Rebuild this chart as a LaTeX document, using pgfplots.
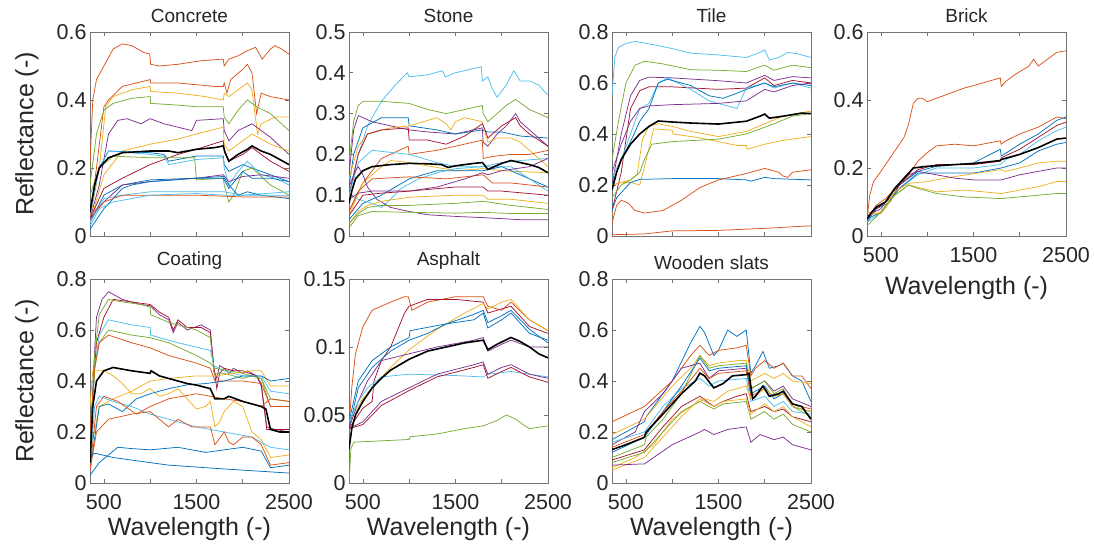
\documentclass[border=0pt]{standalone}
\usepackage{fontspec}
\setmainfont{Liberation Sans}
\usepackage{pgfplots}
\pgfplotsset{compat=1.18}
\definecolor{ca}{rgb}{0,0.447,0.741}
\definecolor{cb}{rgb}{0.85,0.325,0.098}
\definecolor{cc}{rgb}{0.929,0.694,0.125}
\definecolor{cd}{rgb}{0.494,0.184,0.556}
\definecolor{ce}{rgb}{0.466,0.674,0.188}
\definecolor{cf}{rgb}{0.301,0.745,0.933}
\definecolor{cg}{rgb}{0.635,0.078,0.184}
\definecolor{axgray}{rgb}{0.45,0.45,0.45}
\definecolor{txt}{rgb}{0.15,0.15,0.15}
\pgfplotsset{
 panel/.style={width=199pt,height=204pt,scale only axis,anchor=south west,
  xmin=350,xmax=2500,xtick={500,1000,1500,2000,2500},
  axis line style={axgray,line width=0.6pt},
  tick style={axgray,line width=0.6pt},major tick length=4pt,tick align=inside,
  tick label style={font=\fontsize{21.5}{23}\selectfont,text=txt},
  xticklabel style={yshift=-8pt},
  title style={font=\fontsize{19}{21}\selectfont,text=txt},
  every axis x label/.style={at={(axis description cs:0.5,0)},anchor=north,yshift=-31pt,font=\fontsize{25}{27}\selectfont,text=txt},
  every axis y label/.style={at={(axis description cs:-0.317,0.5)},rotate=90,anchor=center,font=\fontsize{25}{27}\selectfont,text=txt},
  every axis plot/.append style={line width=0.75pt},
 },
 nolab/.style={xticklabels={}},
 lab/.style={xticklabels={500,,1500,,2500},xlabel={Wavelength (-)}},
 mean/.style={black,line width=1.6pt},
}
\begin{document}
\begin{tikzpicture}
\useasboundingbox (0pt,0pt) rectangle (1094pt,553pt);
% ---------------- Concrete
\begin{axis}[panel,nolab,at={(90pt,317pt)},ymin=0,ymax=0.6,ytick={0,0.2,0.4,0.6},yticklabels={0,0.2,0.4,0.6},title={Concrete},ylabel={Reflectance (-)}]
\addplot[cb] coordinates {(350,0.21)(380,0.4)(420,0.46)(500,0.5)(600,0.55)(700,0.565)(800,0.56)(930,0.54)(995,0.535)(1005,0.505)(1100,0.5)(1300,0.505)(1540,0.515)(1760,0.52)(1790,0.52)(1800,0.5)(1850,0.52)(1950,0.53)(2050,0.545)(2140,0.555)(2210,0.52)(2300,0.55)(2350,0.56)(2420,0.55)(2500,0.535)};
\addplot[cb] coordinates {(350,0.06)(420,0.2)(500,0.38)(550,0.4)(700,0.44)(1000,0.46)(1005,0.45)(1300,0.45)(1700,0.44)(1790,0.44)(1800,0.45)(1830,0.42)(1870,0.46)(2000,0.49)(2050,0.505)(2100,0.48)(2150,0.36)(2200,0.42)(2300,0.41)(2500,0.40)};
\addplot[cc] coordinates {(350,0.05)(450,0.2)(520,0.38)(600,0.41)(800,0.43)(1000,0.44)(1005,0.425)(1300,0.42)(1600,0.41)(1790,0.40)(1800,0.42)(1850,0.41)(1900,0.42)(2000,0.44)(2050,0.45)(2100,0.43)(2160,0.3)(2200,0.33)(2350,0.35)(2500,0.35)};
\addplot[ce] coordinates {(350,0.15)(420,0.3)(500,0.37)(600,0.39)(800,0.405)(1000,0.41)(1005,0.39)(1300,0.385)(1500,0.38)(1790,0.38)(1800,0.35)(1850,0.33)(1950,0.37)(2050,0.40)(2150,0.38)(2300,0.36)(2500,0.31)};
\addplot[cd] coordinates {(350,0.05)(450,0.15)(550,0.30)(650,0.34)(750,0.345)(900,0.33)(1000,0.345)(1150,0.33)(1300,0.32)(1450,0.31)(1500,0.34)(1790,0.345)(1800,0.31)(1850,0.28)(1950,0.31)(2100,0.33)(2300,0.29)(2500,0.24)};
\addplot[cc] coordinates {(350,0.04)(500,0.18)(700,0.25)(1000,0.27)(1300,0.285)(1500,0.30)(1790,0.32)(1800,0.27)(1850,0.25)(2000,0.28)(2100,0.30)(2300,0.27)(2500,0.25)};
\addplot[cg] coordinates {(350,0.05)(500,0.14)(700,0.17)(1000,0.21)(1300,0.24)(1500,0.255)(1790,0.28)(1800,0.25)(1850,0.22)(2000,0.24)(2100,0.26)(2300,0.22)(2500,0.19)};
\addplot[ca] coordinates {(350,0.08)(450,0.2)(550,0.25)(1000,0.245)(1150,0.24)(1200,0.22)(1500,0.235)(1790,0.235)(1800,0.21)(1850,0.19)(2000,0.21)(2100,0.2)(2300,0.18)(2500,0.16)};
\addplot[ce] coordinates {(350,0.12)(450,0.2)(600,0.235)(1000,0.23)(1480,0.23)(1500,0.165)(1790,0.17)(1800,0.15)(1850,0.10)(1900,0.12)(2000,0.19)(2100,0.2)(2300,0.15)(2500,0.12)};
\addplot[cf] coordinates {(350,0.06)(450,0.2)(550,0.25)(1000,0.24)(1150,0.235)(1200,0.21)(1500,0.225)(1790,0.23)(1800,0.2)(1850,0.15)(1950,0.19)(2050,0.22)(2200,0.18)(2350,0.17)(2500,0.15)};
\addplot[ca] coordinates {(350,0.04)(500,0.12)(700,0.15)(1000,0.165)(1500,0.17)(1790,0.17)(1850,0.14)(2000,0.19)(2100,0.17)(2300,0.17)(2500,0.16)};
\addplot[cd] coordinates {(350,0.05)(500,0.1)(700,0.15)(1000,0.16)(1500,0.17)(1790,0.18)(1850,0.16)(2000,0.175)(2200,0.18)(2500,0.17)};
\addplot[cf] coordinates {(350,0.04)(500,0.11)(700,0.12)(1000,0.13)(1500,0.13)(1800,0.13)(2000,0.12)(2500,0.13)};
\addplot[ca] coordinates {(350,0.02)(500,0.08)(700,0.14)(800,0.15)(1000,0.16)(1500,0.17)(1790,0.175)(1850,0.15)(1950,0.12)(2050,0.13)(2200,0.12)(2500,0.11)};
\addplot[cb] coordinates {(350,0.06)(500,0.1)(700,0.12)(1000,0.12)(1500,0.12)(2000,0.115)(2500,0.115)};
\addplot[cf] coordinates {(350,0.03)(450,0.08)(600,0.1)(800,0.11)(1000,0.12)(1500,0.125)(1800,0.12)(2100,0.12)(2500,0.12)};
\addplot[mean] coordinates {(350,0.07)(400,0.15)(450,0.2)(550,0.23)(700,0.245)(1000,0.25)(1200,0.25)(1300,0.245)(1500,0.255)(1700,0.26)(1790,0.265)(1810,0.245)(1850,0.22)(1950,0.24)(2050,0.255)(2100,0.265)(2200,0.25)(2300,0.24)(2400,0.225)(2500,0.21)};
\end{axis}
% ---------------- Stone
\begin{axis}[panel,nolab,at={(349pt,317pt)},ymin=0,ymax=0.5,ytick={0,0.1,0.2,0.3,0.4,0.5},yticklabels={0,0.1,0.2,0.3,0.4,0.5},title={Stone}]
\addplot[cf] coordinates {(350,0.1)(450,0.2)(550,0.27)(700,0.33)(850,0.37)(980,0.40)(1000,0.39)(1200,0.395)(1360,0.405)(1390,0.39)(1500,0.4)(1780,0.415)(1790,0.38)(1850,0.39)(1900,0.36)(1950,0.34)(2050,0.37)(2130,0.405)(2200,0.38)(2300,0.38)(2400,0.37)(2500,0.345)};
\addplot[ce] coordinates {(350,0.18)(400,0.28)(450,0.32)(500,0.33)(700,0.33)(1000,0.325)(1200,0.31)(1400,0.30)(1600,0.31)(1790,0.32)(1800,0.30)(1850,0.28)(1950,0.30)(2050,0.32)(2150,0.335)(2300,0.31)(2500,0.29)};
\addplot[cd] coordinates {(350,0.15)(400,0.26)(450,0.295)(600,0.28)(800,0.27)(1000,0.26)(1200,0.255)(1500,0.25)(1790,0.265)(1800,0.23)(1850,0.22)(1950,0.25)(2050,0.27)(2150,0.30)(2200,0.28)(2300,0.26)(2400,0.24)(2500,0.22)};
\addplot[ca] coordinates {(350,0.12)(400,0.2)(500,0.265)(700,0.29)(990,0.29)(1000,0.27)(1300,0.26)(1500,0.25)(1790,0.26)(1850,0.255)(2000,0.255)(2200,0.245)(2500,0.24)};
\addplot[cc] coordinates {(350,0.14)(450,0.22)(550,0.25)(800,0.265)(1000,0.27)(1300,0.29)(1400,0.275)(1450,0.26)(1500,0.28)(1600,0.29)(1790,0.28)(1850,0.23)(1950,0.24)(2100,0.24)(2200,0.23)(2350,0.2)(2500,0.17)};
\addplot[cg] coordinates {(350,0.1)(450,0.2)(550,0.25)(700,0.26)(990,0.265)(1000,0.235)(1200,0.235)(1400,0.225)(1600,0.245)(1790,0.275)(1820,0.26)(1850,0.24)(2000,0.27)(2150,0.29)(2200,0.27)(2300,0.25)(2500,0.22)};
\addplot[cb] coordinates {(350,0.06)(500,0.13)(700,0.19)(990,0.22)(1000,0.2)(1300,0.21)(1500,0.22)(1790,0.235)(1800,0.19)(1900,0.195)(2100,0.2)(2300,0.2)(2500,0.21)};
\addplot[cf] coordinates {(350,0.1)(450,0.18)(600,0.21)(800,0.205)(1000,0.2)(1300,0.18)(1500,0.17)(1800,0.17)(2000,0.18)(2200,0.185)(2500,0.19)};
\addplot[cc] coordinates {(350,0.05)(500,0.13)(700,0.17)(800,0.185)(1000,0.18)(1500,0.16)(1800,0.165)(2000,0.16)(2500,0.155)};
\addplot[ca] coordinates {(350,0.04)(500,0.08)(700,0.1)(1000,0.14)(1300,0.16)(1500,0.16)(1800,0.16)(2000,0.17)(2200,0.15)(2500,0.12)};
\addplot[cf] coordinates {(350,0.1)(450,0.09)(600,0.08)(700,0.07)(800,0.09)(900,0.115)(1100,0.14)(1300,0.155)(1500,0.165)(1800,0.17)(2000,0.17)(2100,0.17)(2300,0.14)(2500,0.11)};
\addplot[cb] coordinates {(350,0.06)(450,0.11)(600,0.14)(1000,0.145)(1400,0.14)(1800,0.15)(1900,0.13)(2100,0.13)(2500,0.12)};
\addplot[cd] coordinates {(350,0.12)(420,0.16)(450,0.17)(500,0.15)(550,0.12)(650,0.09)(800,0.07)(1000,0.06)(1200,0.052)(1500,0.048)(1800,0.045)(2200,0.04)(2500,0.04)};
\addplot[cd] coordinates {(350,0.09)(450,0.105)(600,0.11)(1000,0.11)(1300,0.12)(1600,0.14)(1790,0.155)(1850,0.15)(2000,0.16)(2300,0.17)(2500,0.19)};
\addplot[cg] coordinates {(350,0.05)(500,0.1)(700,0.105)(1000,0.11)(1500,0.12)(1800,0.12)(1850,0.11)(2000,0.11)(2500,0.1)};
\addplot[cc] coordinates {(350,0.03)(450,0.06)(550,0.075)(700,0.085)(1000,0.095)(1500,0.1)(1800,0.1)(1850,0.09)(2100,0.09)(2500,0.08)};
\addplot[ce] coordinates {(350,0.03)(450,0.055)(550,0.07)(700,0.075)(1000,0.075)(1500,0.08)(1800,0.085)(2100,0.075)(2500,0.065)};
\addplot[ce] coordinates {(350,0.02)(450,0.05)(600,0.06)(1000,0.058)(1500,0.056)(1800,0.058)(2100,0.055)(2500,0.055)};
\addplot[mean] coordinates {(350,0.08)(380,0.11)(420,0.14)(500,0.16)(600,0.17)(800,0.175)(1000,0.178)(1200,0.177)(1350,0.175)(1420,0.168)(1500,0.172)(1700,0.178)(1790,0.18)(1810,0.175)(1850,0.163)(1900,0.168)(2000,0.178)(2100,0.185)(2200,0.18)(2300,0.175)(2400,0.168)(2500,0.155)};
\end{axis}
% ---------------- Tile
\begin{axis}[panel,nolab,at={(612pt,317pt)},ymin=0,ymax=0.8,ytick={0,0.2,0.4,0.6,0.8},yticklabels={0,0.2,0.4,0.6,0.8},title={Tile}]
\addplot[cf] coordinates {(350,0.55)(380,0.7)(420,0.74)(500,0.755)(600,0.763)(800,0.75)(1000,0.735)(1200,0.717)(1500,0.71)(1800,0.70)(1950,0.72)(2000,0.73)(2050,0.69)(2150,0.70)(2250,0.72)(2350,0.715)(2500,0.70)};
\addplot[ce] coordinates {(350,0.3)(420,0.45)(500,0.6)(600,0.67)(700,0.685)(900,0.675)(1200,0.652)(1500,0.65)(1800,0.645)(2000,0.67)(2100,0.65)(2300,0.67)(2500,0.66)};
\addplot[cd] coordinates {(350,0.2)(450,0.4)(550,0.55)(650,0.61)(750,0.623)(1000,0.62)(1500,0.609)(1800,0.60)(2000,0.63)(2100,0.61)(2300,0.625)(2500,0.62)};
\addplot[cg] coordinates {(350,0.1)(450,0.25)(550,0.5)(650,0.57)(750,0.585)(1000,0.585)(1500,0.575)(1800,0.58)(2000,0.62)(2100,0.59)(2300,0.61)(2500,0.6)};
\addplot[cf] coordinates {(350,0.23)(450,0.3)(550,0.4)(650,0.5)(750,0.52)(850,0.6)(950,0.62)(1200,0.575)(1400,0.53)(1500,0.52)(1700,0.5)(1800,0.58)(2000,0.6)(2100,0.58)(2300,0.6)(2500,0.58)};
\addplot[ca] coordinates {(350,0.2)(450,0.3)(550,0.37)(650,0.45)(750,0.5)(850,0.6)(950,0.615)(1200,0.59)(1400,0.55)(1550,0.54)(1700,0.56)(1800,0.575)(2000,0.6)(2100,0.585)(2300,0.6)(2500,0.59)};
\addplot[cd] coordinates {(350,0.25)(450,0.36)(550,0.45)(650,0.5)(750,0.51)(1000,0.515)(1500,0.52)(1800,0.53)(2000,0.575)(2100,0.565)(2300,0.59)(2500,0.6)};
\addplot[cc] coordinates {(350,0.2)(450,0.21)(550,0.22)(620,0.24)(680,0.38)(750,0.43)(850,0.44)(1000,0.43)(1200,0.41)(1500,0.39)(1800,0.41)(2000,0.44)(2200,0.47)(2500,0.49)};
\addplot[cc] coordinates {(350,0.2)(450,0.21)(550,0.21)(650,0.2)(720,0.3)(800,0.42)(1000,0.415)(1010,0.4)(1300,0.385)(1500,0.37)(1700,0.355)(1800,0.355)(1810,0.34)(2000,0.36)(2200,0.375)(2500,0.39)};
\addplot[ce] coordinates {(350,0.15)(450,0.2)(550,0.22)(650,0.25)(700,0.3)(780,0.36)(1000,0.37)(1500,0.38)(1800,0.4)(2100,0.44)(2300,0.47)(2500,0.48)};
\addplot[ca] coordinates {(350,0.1)(400,0.15)(450,0.17)(550,0.21)(650,0.222)(1000,0.225)(1500,0.225)(1800,0.22)(1850,0.215)(2000,0.23)(2100,0.225)(2500,0.22)};
\addplot[cb] coordinates {(350,0.05)(400,0.12)(450,0.14)(520,0.13)(600,0.1)(700,0.09)(900,0.1)(1100,0.14)(1300,0.19)(1500,0.22)(1800,0.245)(2000,0.265)(2150,0.25)(2200,0.235)(2250,0.23)(2300,0.25)(2500,0.26)};
\addplot[cb] coordinates {(350,0.005)(700,0.008)(1000,0.02)(1500,0.022)(2000,0.03)(2500,0.04)};
\addplot[mean] coordinates {(350,0.18)(400,0.25)(450,0.3)(550,0.36)(650,0.4)(750,0.43)(850,0.451)(1000,0.447)(1200,0.443)(1500,0.439)(1800,0.45)(1950,0.47)(2000,0.478)(2050,0.462)(2200,0.47)(2400,0.482)(2500,0.48)};
\end{axis}
% ---------------- Brick
\begin{axis}[panel,lab,at={(867pt,317pt)},ymin=0,ymax=0.6,ytick={0,0.2,0.4,0.6},yticklabels={0,0.2,0.4,0.6},title={Brick},every axis x label/.append style={yshift=-6pt}]
\addplot[cb] coordinates {(350,0.05)(380,0.12)(420,0.16)(500,0.19)(600,0.23)(700,0.27)(750,0.29)(800,0.33)(850,0.39)(900,0.405)(950,0.405)(1000,0.395)(1200,0.415)(1400,0.435)(1600,0.45)(1790,0.465)(1800,0.44)(1850,0.455)(1950,0.475)(2100,0.5)(2150,0.52)(2200,0.5)(2300,0.52)(2400,0.54)(2500,0.545)};
\addplot[cb] coordinates {(350,0.05)(450,0.09)(550,0.11)(700,0.15)(800,0.18)(900,0.22)(1000,0.245)(1100,0.265)(1300,0.27)(1500,0.265)(1790,0.28)(1800,0.27)(1850,0.28)(2000,0.3)(2200,0.32)(2400,0.35)(2500,0.345)};
\addplot[ca] coordinates {(350,0.04)(450,0.08)(600,0.1)(700,0.15)(900,0.19)(1100,0.205)(1500,0.215)(1790,0.255)(1800,0.235)(2000,0.27)(2200,0.3)(2400,0.34)(2500,0.35)};
\addplot[cg] coordinates {(350,0.05)(450,0.08)(600,0.11)(700,0.15)(900,0.195)(1100,0.21)(1500,0.21)(1790,0.22)(1800,0.23)(2000,0.255)(2200,0.29)(2400,0.325)(2500,0.335)};
\addplot[cf] coordinates {(350,0.04)(500,0.07)(700,0.14)(900,0.18)(1100,0.2)(1500,0.2)(1790,0.21)(1850,0.225)(2000,0.24)(2200,0.28)(2400,0.31)(2500,0.32)};
\addplot[ca] coordinates {(350,0.05)(500,0.07)(700,0.14)(900,0.185)(1100,0.185)(1500,0.185)(1800,0.2)(2000,0.215)(2200,0.25)(2400,0.27)(2500,0.275)};
\addplot[cc] coordinates {(350,0.06)(500,0.07)(650,0.13)(800,0.155)(1000,0.16)(1300,0.175)(1790,0.195)(1850,0.19)(2000,0.2)(2200,0.215)(2400,0.22)(2500,0.22)};
\addplot[cd] coordinates {(350,0.06)(500,0.08)(650,0.14)(800,0.18)(900,0.19)(1100,0.18)(1300,0.17)(1500,0.165)(1800,0.165)(2000,0.18)(2200,0.19)(2400,0.2)(2500,0.2)};
\addplot[cc] coordinates {(350,0.07)(500,0.065)(650,0.12)(800,0.15)(950,0.14)(1100,0.13)(1400,0.135)(1800,0.125)(2000,0.135)(2200,0.145)(2400,0.16)(2500,0.16)};
\addplot[ce] coordinates {(350,0.03)(500,0.07)(650,0.12)(800,0.15)(900,0.14)(1100,0.125)(1400,0.115)(1800,0.11)(2000,0.115)(2200,0.12)(2400,0.125)(2500,0.125)};
\addplot[mean] coordinates {(350,0.05)(400,0.07)(450,0.085)(550,0.1)(650,0.14)(750,0.17)(850,0.2)(1000,0.205)(1300,0.21)(1500,0.213)(1790,0.222)(1800,0.225)(2000,0.24)(2200,0.26)(2400,0.285)(2500,0.288)};
\end{axis}
% ---------------- Coating
\begin{axis}[panel,lab,at={(90pt,70pt)},ymin=0,ymax=0.8,ytick={0,0.2,0.4,0.6,0.8},yticklabels={0,0.2,0.4,0.6,0.8},title={Coating},ylabel={Reflectance (-)}]
\addplot[cd] coordinates {(350,0.1)(390,0.45)(420,0.65)(480,0.72)(550,0.75)(700,0.72)(900,0.7)(1000,0.695)(1100,0.66)(1200,0.64)(1250,0.59)(1300,0.63)(1400,0.6)(1550,0.62)(1650,0.6)(1690,0.44)(1720,0.41)(1750,0.46)(1800,0.45)(1850,0.43)(1900,0.45)(2000,0.43)(2050,0.44)(2150,0.42)(2200,0.38)(2260,0.22)(2350,0.21)(2500,0.2)};
\addplot[cg] coordinates {(350,0.1)(390,0.4)(420,0.55)(500,0.65)(600,0.72)(800,0.71)(1000,0.7)(1100,0.67)(1200,0.65)(1250,0.6)(1300,0.64)(1400,0.61)(1550,0.61)(1650,0.59)(1690,0.45)(1720,0.37)(1750,0.43)(1800,0.45)(1900,0.44)(2000,0.44)(2150,0.42)(2200,0.39)(2260,0.21)(2500,0.21)};
\addplot[ce] coordinates {(350,0.1)(400,0.5)(450,0.66)(550,0.72)(700,0.71)(900,0.70)(1000,0.69)(1005,0.66)(1200,0.63)(1500,0.6)(1650,0.57)(1690,0.43)(1800,0.43)(2000,0.41)(2100,0.42)(2200,0.41)(2300,0.3)(2500,0.3)};
\addplot[cf] coordinates {(350,0.08)(400,0.45)(450,0.58)(550,0.64)(800,0.62)(1000,0.61)(1005,0.58)(1300,0.55)(1650,0.52)(1690,0.46)(1800,0.44)(2000,0.42)(2200,0.42)(2300,0.36)(2500,0.35)};
\addplot[ce] coordinates {(350,0.08)(400,0.45)(450,0.55)(550,0.6)(800,0.58)(1000,0.57)(1200,0.55)(1500,0.5)(1650,0.47)(1700,0.45)(2000,0.43)(2200,0.41)(2300,0.33)(2500,0.32)};
\addplot[cb] coordinates {(350,0.2)(400,0.45)(450,0.55)(550,0.58)(800,0.55)(1000,0.53)(1200,0.5)(1500,0.47)(1650,0.45)(1700,0.4)(1800,0.4)(2000,0.4)(2200,0.39)(2300,0.3)(2500,0.3)};
\addplot[cc] coordinates {(350,0.3)(380,0.44)(500,0.44)(600,0.42)(700,0.39)(800,0.35)(900,0.35)(1000,0.37)(1100,0.34)(1200,0.35)(1300,0.37)(1400,0.33)(1500,0.29)(1600,0.3)(1650,0.32)(1700,0.22)(1750,0.24)(1800,0.28)(1900,0.32)(2000,0.3)(2050,0.25)(2100,0.2)(2200,0.17)(2300,0.1)(2500,0.11)};
\addplot[cc] coordinates {(350,0.15)(400,0.2)(450,0.3)(600,0.33)(800,0.36)(1000,0.4)(1200,0.41)(1500,0.42)(1700,0.42)(1900,0.43)(2100,0.44)(2200,0.44)(2300,0.38)(2500,0.38)};
\addplot[ca] coordinates {(350,0.05)(450,0.3)(550,0.31)(700,0.28)(850,0.33)(1000,0.35)(1200,0.37)(1400,0.385)(1600,0.39)(1800,0.4)(2000,0.42)(2200,0.42)(2300,0.4)(2500,0.41)};
\addplot[cf] coordinates {(350,0.05)(400,0.3)(450,0.34)(600,0.32)(800,0.3)(1000,0.27)(1200,0.25)(1500,0.22)(1800,0.2)(2100,0.18)(2300,0.14)(2500,0.13)};
\addplot[cb] coordinates {(350,0.05)(420,0.3)(500,0.34)(650,0.32)(850,0.27)(1000,0.3)(1200,0.33)(1500,0.35)(1800,0.33)(2000,0.32)(2200,0.3)(2300,0.33)(2500,0.32)};
\addplot[cb] coordinates {(350,0.05)(420,0.2)(550,0.25)(800,0.27)(1000,0.28)(1100,0.25)(1200,0.22)(1300,0.25)(1450,0.22)(1650,0.22)(1700,0.15)(1800,0.2)(1850,0.16)(1900,0.15)(2000,0.18)(2100,0.18)(2200,0.15)(2300,0.07)(2500,0.08)};
\addplot[ca] coordinates {(350,0.03)(450,0.08)(550,0.11)(650,0.14)(800,0.135)(1000,0.13)(1300,0.14)(1600,0.12)(2000,0.14)(2200,0.125)(2300,0.06)(2500,0.07)};
\addplot[ca] coordinates {(350,0.1)(400,0.117)(600,0.1)(800,0.09)(1200,0.07)(1800,0.055)(2500,0.039)};
\addplot[mean] coordinates {(350,0.08)(380,0.3)(420,0.4)(500,0.44)(600,0.453)(800,0.44)(1000,0.43)(1010,0.44)(1100,0.42)(1200,0.41)(1300,0.4)(1400,0.39)(1500,0.384)(1650,0.37)(1700,0.33)(1800,0.33)(1850,0.34)(2000,0.32)(2200,0.3)(2250,0.29)(2300,0.21)(2400,0.2)(2500,0.2)};
\end{axis}
% ---------------- Asphalt
\begin{axis}[panel,lab,at={(349pt,70pt)},ymin=0,ymax=0.15,ytick={0,0.05,0.1,0.15},yticklabels={0,0.05,0.1,0.15},title={Asphalt}]
\addplot[cb] coordinates {(350,0.04)(380,0.07)(420,0.095)(500,0.115)(600,0.127)(700,0.13)(800,0.133)(950,0.137)(990,0.137)(1030,0.127)(1200,0.133)(1500,0.137)(1800,0.137)(1850,0.13)(2000,0.127)(2100,0.133)(2300,0.12)(2500,0.112)};
\addplot[cg] coordinates {(350,0.04)(500,0.055)(600,0.06)(620,0.075)(700,0.09)(800,0.1)(950,0.125)(1000,0.13)(1200,0.135)(1500,0.135)(1800,0.133)(1850,0.125)(2000,0.128)(2100,0.13)(2300,0.115)(2500,0.11)};
\addplot[cc] coordinates {(350,0.045)(500,0.062)(600,0.07)(800,0.085)(1000,0.098)(1300,0.113)(1600,0.125)(1800,0.132)(1850,0.128)(2000,0.133)(2100,0.135)(2300,0.12)(2500,0.112)};
\addplot[ca] coordinates {(350,0.04)(450,0.07)(600,0.085)(800,0.097)(1000,0.105)(1200,0.11)(1400,0.117)(1700,0.12)(1800,0.125)(1850,0.114)(2000,0.12)(2100,0.125)(2300,0.11)(2500,0.105)};
\addplot[ca] coordinates {(350,0.045)(450,0.075)(600,0.09)(800,0.1)(1000,0.107)(1010,0.112)(1400,0.117)(1700,0.124)(1800,0.127)(1850,0.118)(2000,0.123)(2100,0.127)(2300,0.113)(2500,0.103)};
\addplot[cd] coordinates {(350,0.04)(450,0.06)(550,0.075)(700,0.09)(1000,0.095)(1300,0.1)(1700,0.105)(1800,0.107)(1850,0.097)(2000,0.102)(2100,0.105)(2300,0.1)(2500,0.1)};
\addplot[cf] coordinates {(350,0.045)(450,0.06)(550,0.07)(700,0.078)(1000,0.08)(1500,0.079)(1800,0.078)(1850,0.08)(2100,0.082)(2300,0.08)(2500,0.078)};
\addplot[cd] coordinates {(350,0.04)(500,0.045)(700,0.06)(1000,0.07)(1300,0.08)(1700,0.087)(1800,0.089)(1850,0.08)(2000,0.085)(2100,0.087)(2300,0.08)(2500,0.077)};
\addplot[cg] coordinates {(350,0.04)(500,0.043)(700,0.057)(1000,0.068)(1300,0.078)(1700,0.085)(1800,0.087)(1850,0.077)(2000,0.082)(2100,0.085)(2300,0.078)(2500,0.074)};
\addplot[ce] coordinates {(350,0.0)(370,0.025)(400,0.03)(700,0.031)(1000,0.032)(1010,0.034)(1300,0.036)(1600,0.04)(1800,0.042)(1950,0.046)(2050,0.05)(2150,0.047)(2250,0.042)(2300,0.04)(2500,0.042)};
\addplot[mean] coordinates {(350,0.025)(380,0.04)(420,0.05)(500,0.06)(600,0.07)(700,0.077)(800,0.083)(1000,0.091)(1200,0.097)(1400,0.1)(1600,0.103)(1800,0.105)(1850,0.098)(1950,0.102)(2100,0.107)(2200,0.104)(2300,0.1)(2400,0.095)(2500,0.092)};
\end{axis}
% ---------------- Wooden slats
\begin{axis}[panel,lab,at={(612pt,70pt)},ymin=0,ymax=0.8,ytick={0,0.2,0.4,0.6,0.8},yticklabels={0,0.2,0.4,0.6,0.8},title={Wooden slats}]
\addplot[ca] coordinates {(350,0.17)(500,0.2)(700,0.24)(720,0.26)(1000,0.4)(1200,0.55)(1300,0.614)(1350,0.59)(1450,0.5)(1500,0.52)(1600,0.6)(1700,0.575)(1800,0.6)(1850,0.43)(1900,0.46)(1980,0.516)(2050,0.45)(2150,0.46)(2200,0.47)(2300,0.42)(2400,0.4)(2500,0.32)};
\addplot[cb] coordinates {(350,0.24)(700,0.3)(1000,0.4)(1200,0.5)(1300,0.54)(1400,0.5)(1500,0.52)(1700,0.53)(1800,0.54)(1850,0.42)(1900,0.45)(2000,0.48)(2100,0.45)(2200,0.47)(2300,0.42)(2400,0.42)(2500,0.37)};
\addplot[cc] coordinates {(350,0.19)(700,0.25)(1000,0.38)(1200,0.45)(1300,0.5)(1400,0.46)(1500,0.47)(1700,0.48)(1800,0.48)(1850,0.4)(2000,0.43)(2100,0.41)(2200,0.43)(2300,0.4)(2500,0.39)};
\addplot[cd] coordinates {(350,0.15)(600,0.2)(700,0.28)(900,0.35)(1100,0.45)(1300,0.47)(1400,0.41)(1500,0.44)(1800,0.45)(1850,0.37)(2000,0.4)(2100,0.36)(2200,0.38)(2300,0.33)(2500,0.3)};
\addplot[ce] coordinates {(350,0.1)(700,0.15)(720,0.18)(900,0.25)(1100,0.35)(1300,0.5)(1400,0.45)(1500,0.46)(1800,0.47)(1850,0.37)(2000,0.4)(2100,0.35)(2200,0.37)(2300,0.3)(2500,0.26)};
\addplot[cf] coordinates {(350,0.16)(700,0.2)(900,0.3)(1100,0.37)(1300,0.41)(1400,0.38)(1500,0.4)(1800,0.41)(1850,0.32)(2000,0.34)(2100,0.3)(2200,0.32)(2300,0.28)(2500,0.27)};
\addplot[cg] coordinates {(350,0.09)(700,0.13)(900,0.22)(1100,0.3)(1300,0.34)(1450,0.3)(1550,0.32)(1700,0.34)(1800,0.35)(1850,0.28)(2000,0.3)(2100,0.28)(2200,0.29)(2300,0.26)(2500,0.24)};
\addplot[ca] coordinates {(350,0.12)(700,0.18)(900,0.28)(1100,0.38)(1300,0.49)(1400,0.44)(1500,0.45)(1800,0.46)(1850,0.35)(2000,0.38)(2100,0.33)(2200,0.35)(2300,0.3)(2500,0.28)};
\addplot[cb] coordinates {(350,0.14)(700,0.19)(900,0.28)(1100,0.36)(1300,0.45)(1400,0.41)(1500,0.43)(1800,0.44)(1850,0.34)(2000,0.37)(2100,0.34)(2200,0.35)(2300,0.31)(2500,0.29)};
\addplot[cc] coordinates {(350,0.06)(600,0.1)(800,0.15)(1000,0.25)(1200,0.3)(1350,0.33)(1450,0.32)(1600,0.36)(1800,0.38)(1850,0.33)(2000,0.37)(2100,0.34)(2200,0.35)(2300,0.3)(2500,0.28)};
\addplot[ce] coordinates {(350,0.08)(700,0.12)(900,0.2)(1100,0.28)(1300,0.32)(1450,0.29)(1550,0.31)(1800,0.32)(1850,0.25)(2000,0.28)(2100,0.25)(2200,0.27)(2300,0.23)(2500,0.2)};
\addplot[cc] coordinates {(350,0.05)(700,0.1)(900,0.18)(1100,0.26)(1300,0.33)(1450,0.3)(1550,0.32)(1800,0.33)(1850,0.27)(2000,0.31)(2100,0.28)(2200,0.3)(2300,0.26)(2500,0.22)};
\addplot[cd] coordinates {(350,0.07)(700,0.075)(800,0.1)(1000,0.15)(1300,0.2)(1350,0.21)(1450,0.19)(1600,0.21)(1800,0.22)(1850,0.16)(1950,0.19)(2100,0.17)(2200,0.18)(2300,0.15)(2500,0.13)};
\addplot[mean] coordinates {(350,0.131)(500,0.15)(700,0.179)(720,0.2)(900,0.27)(1100,0.35)(1250,0.4)(1300,0.431)(1350,0.42)(1450,0.373)(1550,0.39)(1650,0.42)(1800,0.425)(1830,0.43)(1870,0.33)(1900,0.34)(1980,0.38)(2050,0.34)(2150,0.35)(2200,0.36)(2300,0.31)(2400,0.3)(2500,0.25)};
\end{axis}
\end{tikzpicture}
\end{document}
